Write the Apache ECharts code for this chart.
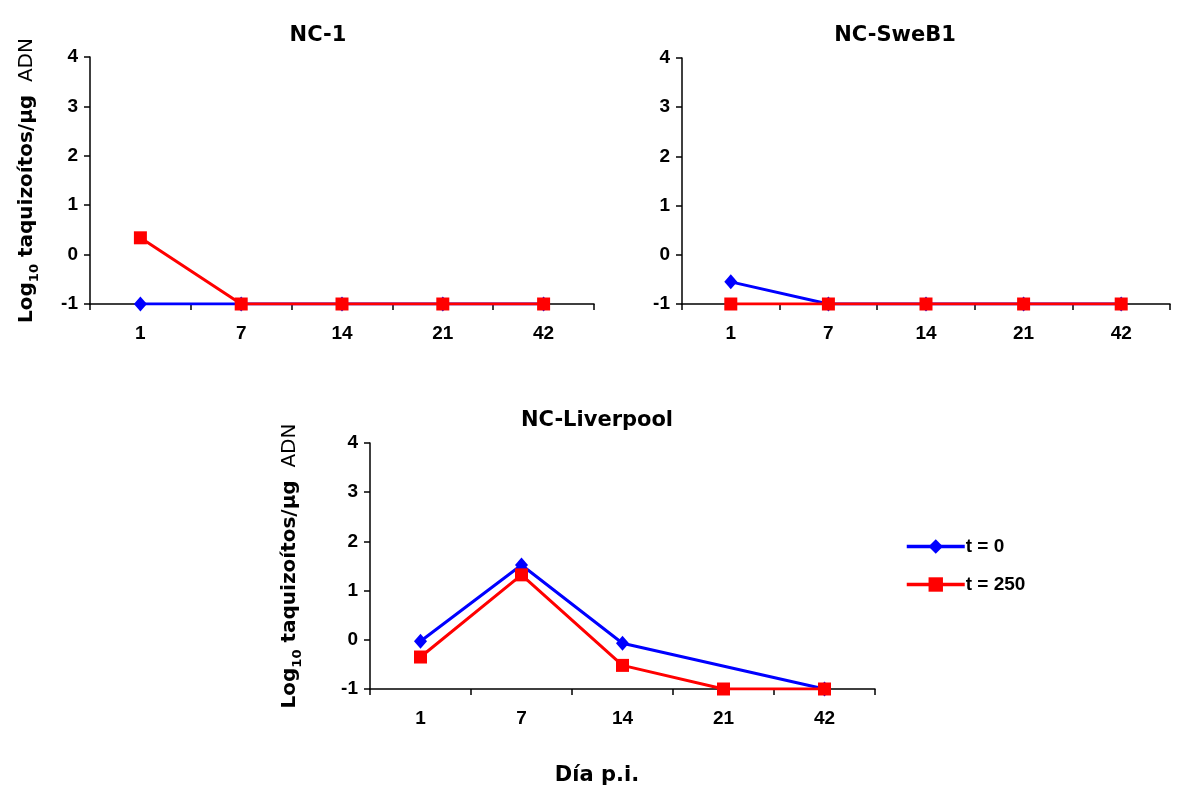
<!DOCTYPE html>
<html>
<head>
<meta charset="utf-8">
<script src="https://cdn.jsdelivr.net/npm/echarts@6/dist/echarts.min.js"></script>
<style>
  html, body { margin: 0; padding: 0; background: #fff; }
  #chart { width: 1184px; height: 792px; }
</style>
</head>
<body>
<div id="chart"></div>
<script>
// Sampling days post infection
const days = ['1', '7', '14', '21', '42'];
const yTicks = [-1, 0, 1, 2, 3, 4];

// Log10 tachyzoites per µg DNA, per isolate
const nc1_t0   = [-1, -1, -1, -1, -1];
const nc1_t250 = [0.34, -1, -1, -1, -1];
const swe_t0   = [-0.55, -1, -1, -1, -1];
const swe_t250 = [-1, -1, -1, -1, -1];
const liv_t0   = [-0.03, 1.52, -0.07, null, -1];
const liv_t250 = [-0.35, 1.32, -0.52, -1, -1];

const panelTitles = ['NC-1', 'NC-SweB1', 'NC-Liverpool'];
const seriesNames = ['t = 0', 't = 250'];

const BLUE = '#0000ff';
const RED = '#ff0000';
const titleFont = '"DejaVu Sans", sans-serif';
const tickFont = '"Liberation Sans", Arial, sans-serif';

const grids = [
  { left: 90, top: 57, width: 504, height: 247 },
  { left: 682, top: 58, width: 488, height: 246 },
  { left: 370, top: 443, width: 505, height: 246 }
];

const yName = '{b|Log}{s|10}{b| taquizoítos/µg}{n|  ADN}';
const yRich = {
  b: { fontFamily: titleFont, fontWeight: 'bold', fontSize: 20, color: '#000', lineHeight: 26, verticalAlign: 'bottom' },
  s: { fontFamily: titleFont, fontWeight: 'bold', fontSize: 13, color: '#000', lineHeight: 26, verticalAlign: 'bottom', padding: [0, 0, -4, 0] },
  n: { fontFamily: titleFont, fontWeight: 'normal', fontSize: 20, color: '#000', lineHeight: 26, verticalAlign: 'bottom' }
};

const axisLineStyle = { color: '#000', width: 1.5 };

const xAxes = grids.map((g, i) => ({
  type: 'category',
  gridIndex: i,
  data: days,
  boundaryGap: true,
  axisLine: { onZero: false, lineStyle: axisLineStyle },
  axisTick: { show: true, length: 6, alignWithLabel: false, lineStyle: axisLineStyle },
  axisLabel: { color: '#000', fontFamily: tickFont, fontWeight: 'bold', fontSize: 19, margin: 20 },
  splitLine: { show: false }
}));

const yNameGap = [53, null, 70];
const yAxes = grids.map((g, i) => ({
  type: 'value',
  gridIndex: i,
  min: yTicks[0],
  max: yTicks[yTicks.length - 1],
  interval: 1,
  axisLine: { show: true, onZero: false, lineStyle: axisLineStyle },
  axisTick: { show: true, length: 6, lineStyle: axisLineStyle },
  axisLabel: { color: '#000', fontFamily: tickFont, fontWeight: 'bold', fontSize: 19, margin: 12 },
  splitLine: { show: false },
  name: yNameGap[i] ? yName : '',
  nameLocation: 'middle',
  nameRotate: 90,
  nameGap: yNameGap[i] || 0,
  nameTextStyle: { rich: yRich }
}));

const panels = [
  [nc1_t0, nc1_t250],
  [swe_t0, swe_t250],
  [liv_t0, liv_t250]
];

const series = [];
panels.forEach((pair, i) => {
  series.push({
    name: seriesNames[0],
    type: 'line',
    xAxisIndex: i,
    yAxisIndex: i,
    data: pair[0],
    connectNulls: true,
    symbol: 'diamond',
    symbolSize: [13, 15],
    lineStyle: { color: BLUE, width: 3 },
    itemStyle: { color: BLUE },
    z: 2
  });
  series.push({
    name: seriesNames[1],
    type: 'line',
    xAxisIndex: i,
    yAxisIndex: i,
    data: pair[1],
    symbol: 'rect',
    symbolSize: 13,
    lineStyle: { color: RED, width: 3 },
    itemStyle: { color: RED },
    z: 3
  });
});

const titleStyle = { fontFamily: titleFont, fontWeight: 'bold', fontSize: 21, color: '#000' };
const titlePos = [
  { left: 318, top: 25 },
  { left: 895, top: 25 },
  { left: 597, top: 410 }
];

const option = {
  backgroundColor: '#fff',
  animation: false,
  title: panelTitles.map((t, i) => ({
    text: t,
    left: titlePos[i].left,
    top: titlePos[i].top,
    textAlign: 'center',
    textStyle: titleStyle,
    padding: 0
  })).concat([{
    text: 'Día p.i.',
    left: 597,
    top: 765,
    textAlign: 'center',
    textStyle: titleStyle,
    padding: 0
  }]),
  legend: {
    data: seriesNames,
    orient: 'vertical',
    left: 900,
    top: 532,
    itemWidth: 58,
    itemHeight: 18,
    itemGap: 19,
    lineStyle: { width: 3.5 },
    textStyle: { fontFamily: tickFont, fontWeight: 'bold', fontSize: 19, color: '#000', padding: [0, 0, 0, -4] },
    selectedMode: false
  },
  grid: grids,
  xAxis: xAxes,
  yAxis: yAxes,
  series: series
};

const chart = echarts.init(document.getElementById('chart'), null, { renderer: 'canvas' });
chart.setOption(option);
</script>
</body>
</html>
